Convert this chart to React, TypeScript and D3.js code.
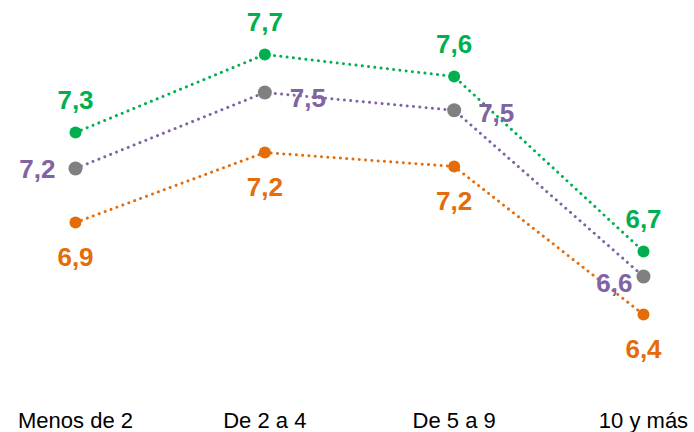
import React from "react";
import * as d3 from "d3";

const categories = ["Menos de 2", "De 2 a 4", "De 5 a 9", "10 y más"];
const greenValues = [7.34, 7.73, 7.62, 6.745];
const purpleValues = [7.16, 7.54, 7.451, 6.62];
const orangeValues = [6.89, 7.24, 7.17, 6.43];

const W = 694;
const H = 432;

type Series = {
  key: string;
  values: number[];
  lineColor: string;
  markerColor: string;
  labelColor: string;
  r: number;
};

const series: Series[] = [
  { key: "green", values: greenValues, lineColor: "#00B050", markerColor: "#00B050", labelColor: "#00B050", r: 6 },
  { key: "purple", values: purpleValues, lineColor: "#8064A2", markerColor: "#808080", labelColor: "#8064A2", r: 7 },
  { key: "orange", values: orangeValues, lineColor: "#E46C0A", markerColor: "#E46C0A", labelColor: "#E46C0A", r: 6 },
];

// label placement per point for the purple series (style, not data)
const purplePlacement = [
  { anchor: "end", dx: -20, dy: 9 },
  { anchor: "start", dx: 25, dy: 14.5 },
  { anchor: "start", dx: 24, dy: 11.5 },
  { anchor: "end", dx: -11, dy: 15 },
];

export default function App() {
  const x = d3.scalePoint<string>().domain(categories).range([75.5, 643.5]);
  const y = d3.scaleLinear().domain([6, 8]).range([400.5, 0.5]);
  const fmt = (v: number) => d3.format(".1f")(v).replace(".", ",");

  const line = d3
    .line<number>()
    .x((_, i) => x(categories[i]) as number)
    .y((v) => y(v));

  return (
    <svg
      width={W}
      height={H}
      style={{ position: "absolute", left: 0, top: 0, background: "#fff" }}
      fontFamily="Arial, 'Liberation Sans', sans-serif"
    >
      {series.map((s) => (
        <path
          key={s.key + "-line"}
          d={line(s.values) || ""}
          fill="none"
          stroke={s.lineColor}
          strokeWidth={3}
          strokeDasharray="0.01 6.3"
          strokeLinecap="round"
        />
      ))}
      {series.map((s) =>
        s.values.map((v, i) => (
          <circle
            key={s.key + "-pt-" + i}
            cx={x(categories[i]) as number}
            cy={y(v)}
            r={s.r}
            fill={s.markerColor}
          />
        ))
      )}
      {series.map((s) =>
        s.values.map((v, i) => {
          const cx = x(categories[i]) as number;
          const cy = y(v);
          let tx = cx;
          let ty = cy;
          let anchor = "middle";
          if (s.key === "green") {
            ty = cy - 24;
          } else if (s.key === "orange") {
            ty = cy + 43;
          } else {
            const p = purplePlacement[i];
            tx = cx + p.dx;
            ty = cy + p.dy;
            anchor = p.anchor;
          }
          return (
            <text
              key={s.key + "-lbl-" + i}
              x={tx}
              y={ty}
              textAnchor={anchor as any}
              fontSize={26}
              fontWeight="bold"
              fill={s.labelColor}
            >
              {fmt(v)}
            </text>
          );
        })
      )}
      {categories.map((c) => (
        <text
          key={"cat-" + c}
          x={x(c) as number}
          y={428}
          textAnchor="middle"
          fontSize={22}
          fill="#000"
        >
          {c}
        </text>
      ))}
    </svg>
  );
}
